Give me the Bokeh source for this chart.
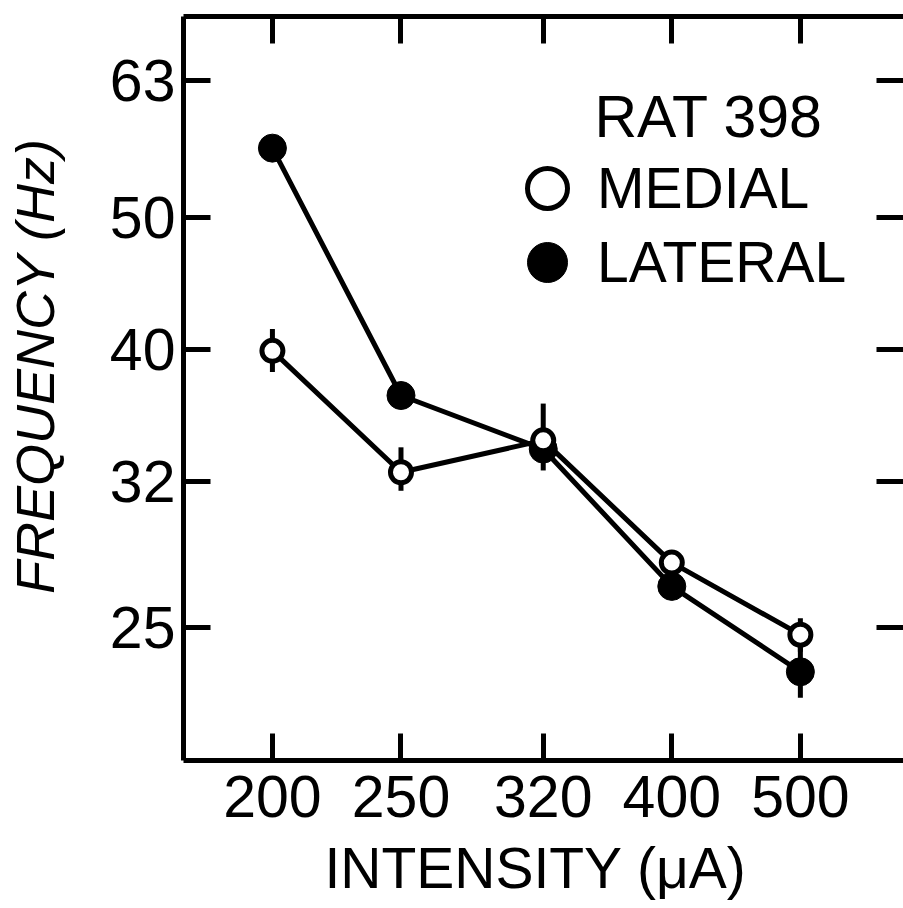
from bokeh.plotting import figure
from bokeh.models import (LogAxis, FixedTicker, BasicTickFormatter, Range1d,
                          Legend, LegendItem, Label, ColumnDataSource,
                          CustomLabelingPolicy)
from bokeh.embed import file_html
from bokeh.resources import INLINE

# ---- data ----
intensity = [200, 250, 320, 400, 500]          # µA
medial = [39.9, 32.5, 34.3, 27.9, 24.7]        # Hz
medial_lo = [38.5, 31.5, 32.6, 27.6, 24.0]
medial_hi = [41.4, 33.9, 36.5, 28.2, 25.4]
lateral = [56.2, 37.0, 33.8, 26.8, 23.2]
lateral_lo = [55.5, 36.5, 33.3, 26.4, 22.2]
lateral_hi = [57.0, 37.5, 34.3, 27.2, 24.2]
y_ticks = [25, 32, 40, 50, 63]
title_text = "RAT 398"
x_label = "INTENSITY  (\u03bcA)"
y_label = "\u00a0\u00a0\u00a0FREQUENCY (Hz)"

FONT = "Liberation Sans"
LW = 5

p = figure(width=903, height=908, x_axis_type="log", y_axis_type="log",
           x_range=Range1d(171.4, 598), y_range=Range1d(19.97, 70.2),
           output_backend="svg", toolbar_location=None,
           min_border_left=183, min_border_top=16, min_border_bottom=148,
           min_border_right=0, background_fill_color="white",
           border_fill_color="white")
p.outline_line_color = None
p.grid.visible = False

hide_labels = CustomLabelingPolicy(
    code="for (let i = 0; i < indices.size; i++) { indices.unset(i) } return indices")


def style_axis(ax, show_labels=True, show_line=True):
    ax.axis_line_width = LW
    ax.axis_line_color = "black" if show_line else None
    ax.major_tick_line_width = LW
    ax.major_tick_line_color = "black"
    ax.major_tick_in = 27
    ax.major_tick_out = 0
    ax.minor_tick_line_color = None
    ax.major_label_text_font = FONT
    ax.major_label_text_color = "black"
    if show_labels:
        ax.major_label_text_font_size = "59px"
    else:
        ax.major_label_policy = hide_labels
        ax.major_label_text_font_size = "0px"
        ax.major_label_standoff = 0
        ax.axis_label_standoff = 0


xa = p.xaxis[0]
xa.ticker = FixedTicker(ticks=intensity)
xa.formatter = BasicTickFormatter()
style_axis(xa)
xa.major_label_standoff = 15
xa.axis_label = x_label
xa.axis_label_text_font = FONT
xa.axis_label_text_font_size = "57px"
xa.axis_label_text_font_style = "normal"
xa.axis_label_text_color = "black"
xa.axis_label_standoff = 16

ya = p.yaxis[0]
ya.ticker = FixedTicker(ticks=y_ticks)
ya.formatter = BasicTickFormatter()
style_axis(ya)
ya.major_label_standoff = 8
ya.axis_label = y_label
ya.axis_label_text_font = FONT
ya.axis_label_text_font_size = "54px"
ya.axis_label_text_font_style = "italic"
ya.axis_label_text_color = "black"
ya.axis_label_standoff = 42

top = LogAxis(ticker=FixedTicker(ticks=intensity))
style_axis(top, show_labels=False)
p.add_layout(top, "above")

right = LogAxis(ticker=FixedTicker(ticks=y_ticks))
style_axis(right, show_labels=False, show_line=False)
p.add_layout(right, "right")

# ---- series ----
src_m = ColumnDataSource(dict(x=intensity, y=medial, lo=medial_lo, hi=medial_hi))
src_l = ColumnDataSource(dict(x=intensity, y=lateral, lo=lateral_lo, hi=lateral_hi))

p.segment(x0="x", y0="lo", x1="x", y1="hi", source=src_m, line_width=LW, line_color="black")
p.segment(x0="x", y0="lo", x1="x", y1="hi", source=src_l, line_width=LW, line_color="black")
p.line("x", "y", source=src_l, line_width=LW, line_color="black")
p.line("x", "y", source=src_m, line_width=LW, line_color="black")
r_l = p.scatter("x", "y", source=src_l, size=28, marker="circle",
                fill_color="black", line_color="black", line_width=1)
r_m = p.scatter("x", "y", source=src_m, size=21, marker="circle",
                fill_color="white", line_color="black", line_width=LW)


def make_legend(label, renderer, loc):
    return Legend(items=[LegendItem(label=label, renderers=[renderer])],
                  location=loc, glyph_width=100, glyph_height=100,
                  padding=0, margin=0, label_standoff=0,
                  label_text_font=FONT, label_text_font_size="57px",
                  label_text_color="black",
                  border_line_color=None, background_fill_alpha=0)


p.add_layout(make_legend("MEDIAL", r_m, (314, 522)), "center")
p.add_layout(make_legend("LATERAL", r_l, (314, 448)), "center")

p.add_layout(Label(x=411, y=644, x_units="screen", y_units="screen",
                   text=title_text, text_font=FONT, text_font_size="59px",
                   text_color="black", text_baseline="middle"))

open("out.html", "w").write(file_html(p, INLINE))
